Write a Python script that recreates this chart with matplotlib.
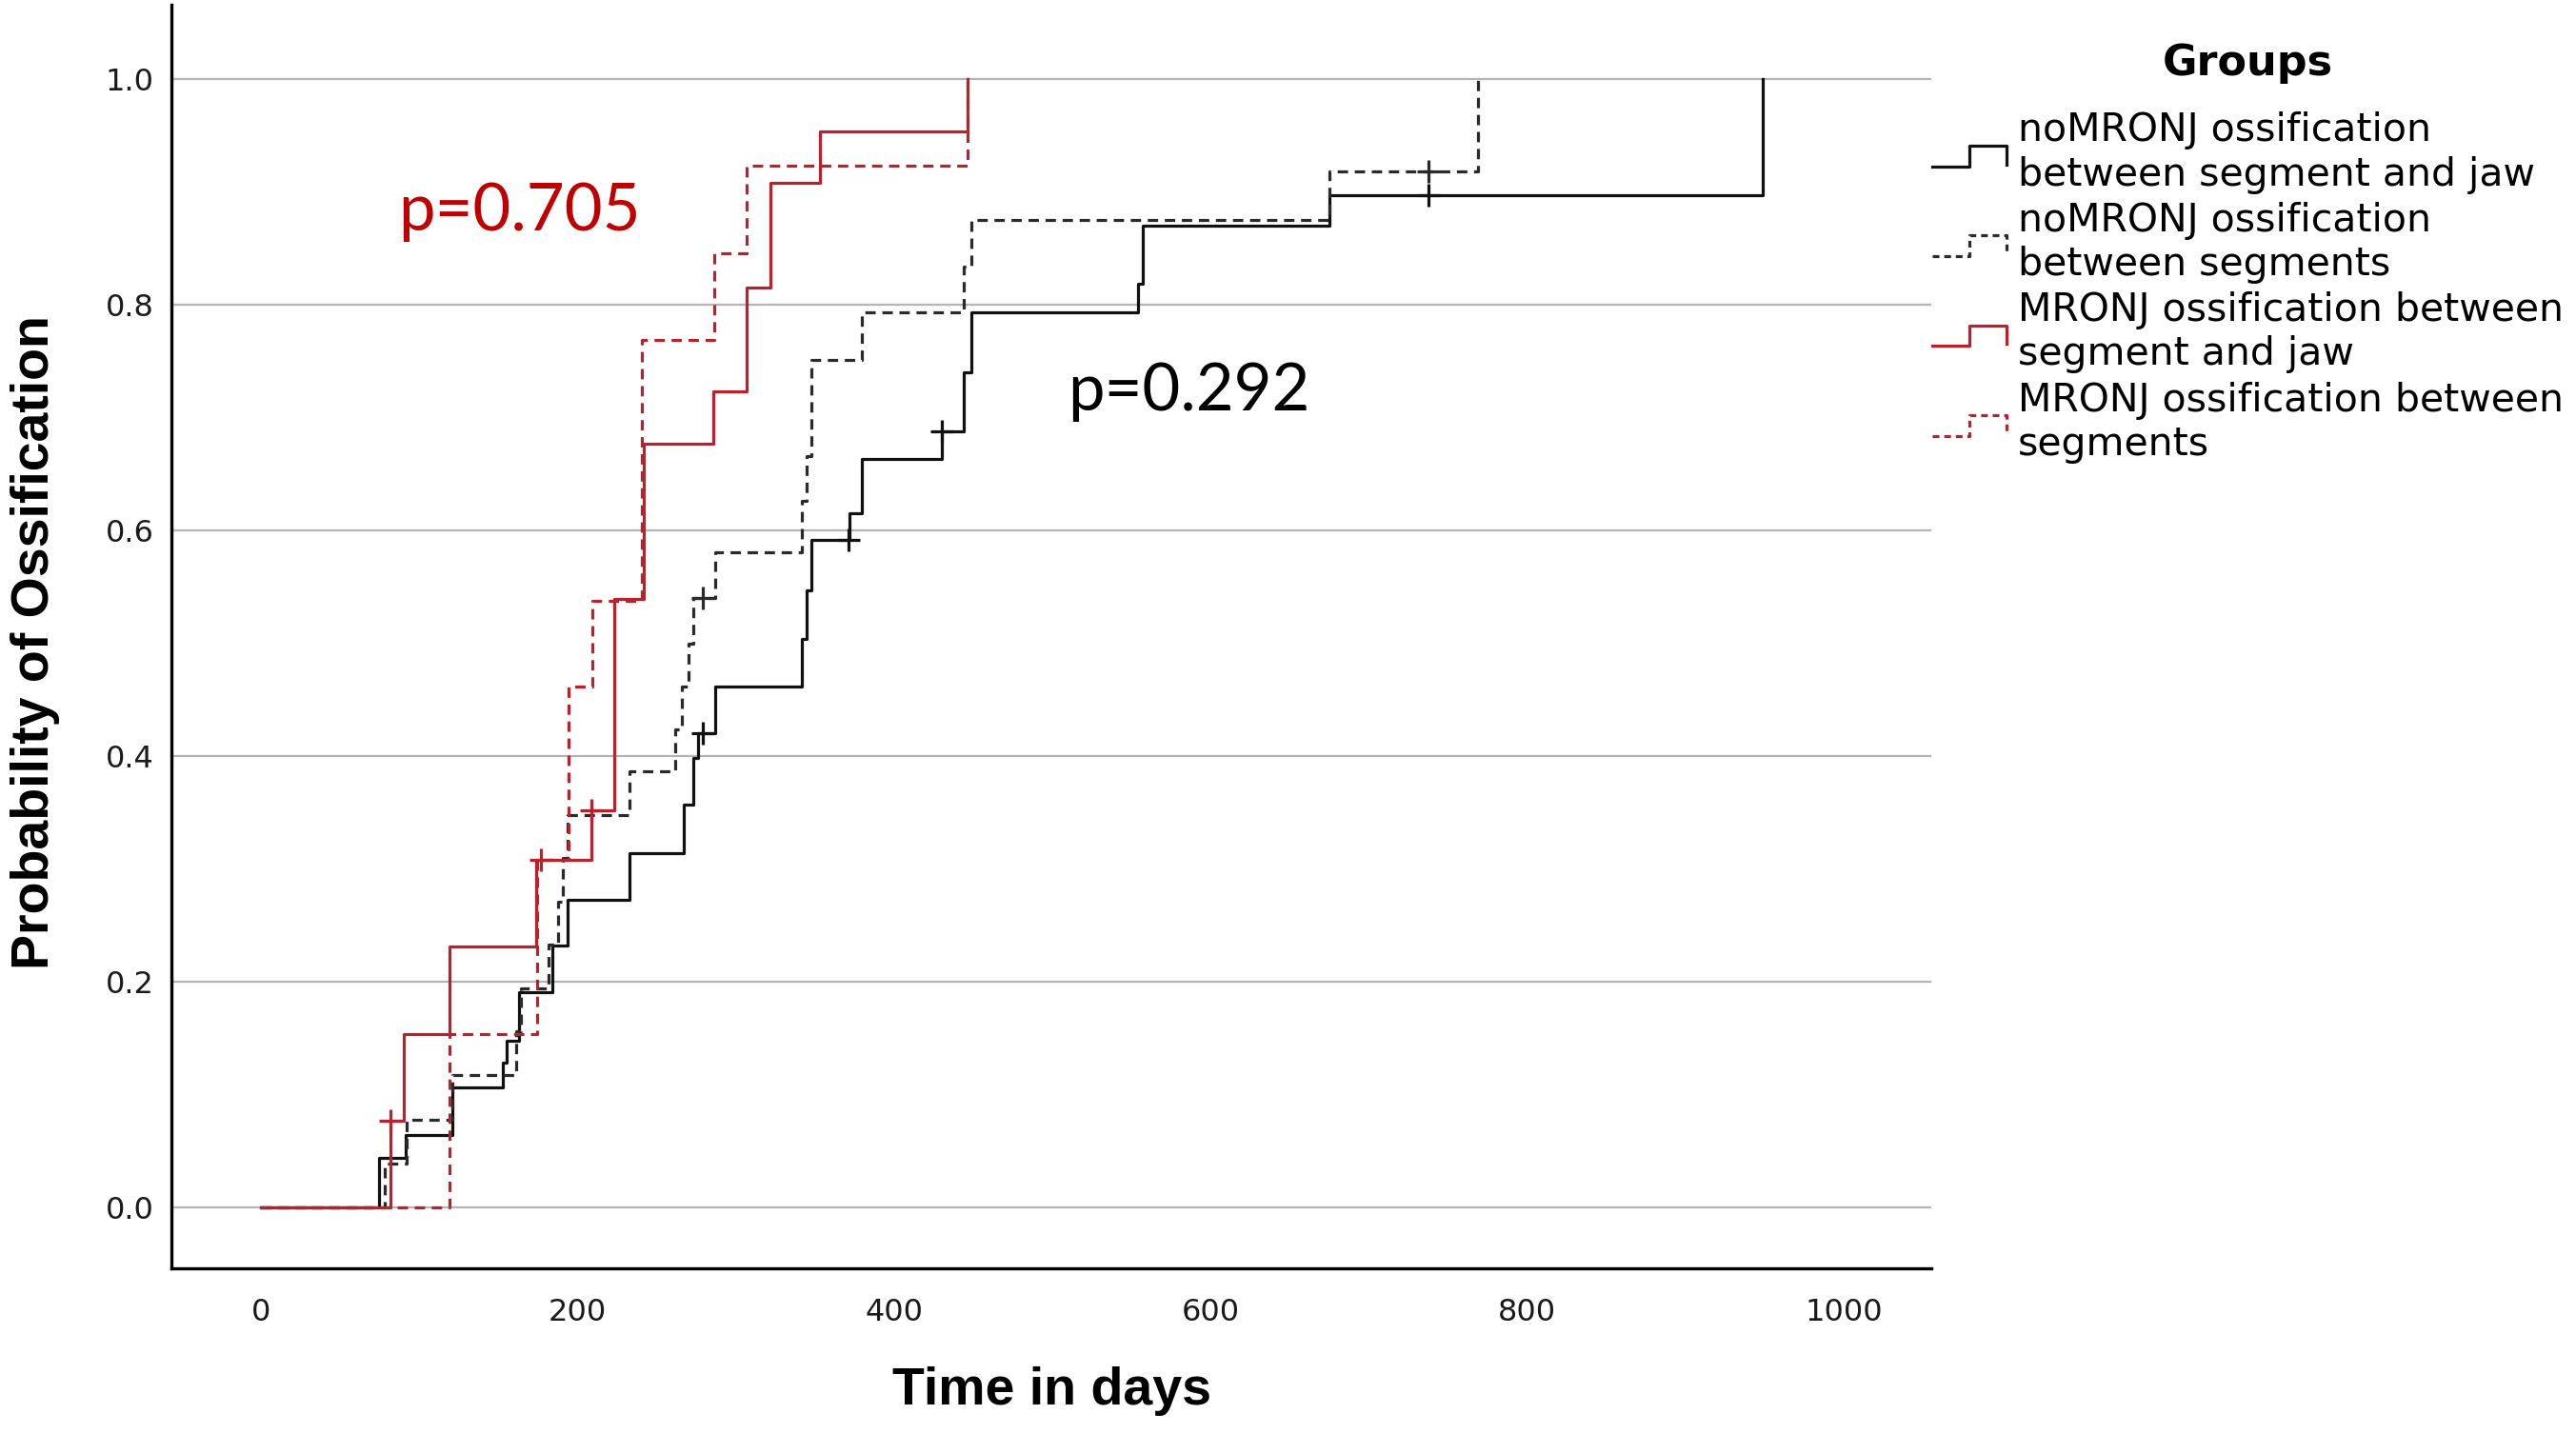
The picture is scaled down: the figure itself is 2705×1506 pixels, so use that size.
import numpy as np
import matplotlib
matplotlib.use('Agg')
import matplotlib.pyplot as plt
from matplotlib.legend_handler import HandlerBase
from matplotlib.lines import Line2D

################################### Dati ###########################
## noMRONJ ossification between segment and jaw
nosj_t = [0, 74.5, 91.5, 121, 153, 155, 163, 184, 194, 233, 267, 273, 276, 287,
          342, 345, 348, 372, 380, 430, 444, 449, 554, 557, 675, 949]
nosj_v = [0, 0.044, 0.064, 0.106, 0.128, 0.148, 0.191, 0.232, 0.273, 0.314, 0.357,
          0.398, 0.420, 0.462, 0.504, 0.547, 0.592, 0.615, 0.663, 0.688, 0.740,
          0.793, 0.819, 0.870, 0.897, 1.0]
nosj_ct = [279, 371, 430, 737.5]
nosj_cv = [0.420, 0.592, 0.688, 0.897]

## noMRONJ ossification between segments
noss_t = [0, 78, 92, 121, 161, 164, 182, 188, 191, 194, 233, 262, 266, 270, 273,
          287, 342, 345, 348, 380, 444, 449, 675, 769]
noss_v = [0, 0.039, 0.078, 0.117, 0.156, 0.194, 0.233, 0.271, 0.310, 0.348, 0.387,
          0.424, 0.462, 0.500, 0.540, 0.581, 0.626, 0.666, 0.751, 0.793, 0.834,
          0.875, 0.918, 1.0]
noss_ct = [279, 737.5]
noss_cv = [0.540, 0.918]

## MRONJ ossification between segment and jaw
msj_t = [0, 82, 90, 119, 174, 209, 223, 242, 286, 307, 322, 353, 446.5]
msj_v = [0, 0.077, 0.154, 0.231, 0.308, 0.352, 0.539, 0.677, 0.723, 0.815, 0.908,
         0.954, 1.0]
msj_ct = [82, 177, 209]
msj_cv = [0.077, 0.308, 0.352]

## MRONJ ossification between segments
mss_t = [0, 119, 174.5, 194.6, 209.4, 241, 286.4, 307, 446.5]
mss_v = [0, 0.154, 0.308, 0.462, 0.538, 0.769, 0.846, 0.923, 1.0]

labels = ['noMRONJ ossification\nbetween segment and jaw',
          'noMRONJ ossification\nbetween segments',
          'MRONJ ossification between\nsegment and jaw',
          'MRONJ ossification between\nsegments']

xticks = [0, 200, 400, 600, 800, 1000]
yticks = [0.0, 0.2, 0.4, 0.6, 0.8, 1.0]

red = '#b7222c'
dash = (3.4, 2.2)
lw = 2.3


## icona a gradino per la legenda (come SPSS)
class StepHandler(HandlerBase):
    def create_artists(self, legend, orig_handle, xdescent, ydescent,
                       width, height, fontsize, trans):
        x0, y0 = -xdescent, -ydescent
        xs = [x0, x0 + 0.5*width, x0 + 0.5*width, x0 + width, x0 + width]
        ys = [y0 + 0.05*height, y0 + 0.05*height, y0 + 0.8*height,
              y0 + 0.8*height, y0 + 0.12*height]
        ln = Line2D(xs, ys, color=orig_handle.get_color(),
                    linestyle=orig_handle.get_linestyle(), lw=orig_handle.get_linewidth())
        if orig_handle.get_linestyle() not in ('-', 'solid'):
            ln.set_dashes((2.2, 1.6))
        ln.set_transform(trans)
        return [ln]


fig = plt.figure(figsize=(27.05, 15.06), dpi=100)
ax = fig.add_axes([0.0665, 0.1155, 0.6832, 0.8812])

l1, = ax.step(nosj_t, nosj_v, where='post', color='#111111', lw=lw)
l2, = ax.step(noss_t, noss_v, where='post', color='#2a2a2a', lw=lw, ls='--', dashes=dash)
l3, = ax.step(msj_t, msj_v, where='post', color=red, lw=lw)
l4, = ax.step(mss_t, mss_v, where='post', color=red, lw=lw, ls='--', dashes=dash)

ax.plot(nosj_ct, nosj_cv, ls='none', marker='+', ms=17, mew=2.3, color='#111111')
ax.plot(noss_ct, noss_cv, ls='none', marker='+', ms=17, mew=2.3, color='#2a2a2a')
ax.plot(msj_ct, msj_cv, ls='none', marker='+', ms=17, mew=2.3, color=red)

ax.set_xlim(-56.6, 1055.4)
ax.set_ylim(-0.054, 1.066)
ax.set_xticks(xticks)
ax.set_yticks(yticks)
ax.set_yticklabels(['%.1f' % v for v in yticks])
ax.tick_params(axis='both', length=0, labelsize=23, labelcolor='#1a1a1a')
ax.tick_params(axis='x', pad=22)
ax.tick_params(axis='y', pad=13)

ax.yaxis.grid(True, color='#b4b4b4', lw=1.6)
ax.set_axisbelow(True)
for s in ['top', 'right']:
    ax.spines[s].set_visible(False)
for s in ['left', 'bottom']:
    ax.spines[s].set_linewidth(2.4)
    ax.spines[s].set_color('black')

ax.set_xlabel('Time in days', fontsize=40, fontweight='bold', family='Liberation Sans')
ax.set_ylabel('Probability of Ossification', fontsize=40, fontweight='bold',
              family='Liberation Sans')
ax.xaxis.set_label_coords(0.5005, -0.0972)
ax.xaxis.label.set_verticalalignment('center')
ax.yaxis.set_label_coords(-0.0775, 0.4958)
ax.yaxis.label.set_verticalalignment('center')
ax.yaxis.label.set_horizontalalignment('center')

ax.text(87, 0.882, 'p=0.705', color='#c00000', fontsize=49.5, family=['Lato', 'DejaVu Sans'],
        ha='left', va='center')
ax.text(509.6, 0.723, 'p=0.292', color='black', fontsize=49.5, family=['Lato', 'DejaVu Sans'],
        ha='left', va='center')

leg = ax.legend([l1, l2, l3, l4], labels, handler_map={Line2D: StepHandler()},
                loc='upper left', bbox_to_anchor=(0.7501, 0.970),
                bbox_transform=fig.transFigure, frameon=False,
                borderpad=0, borderaxespad=0, handlelength=1.9, handletextpad=0.3,
                labelspacing=0.2, prop={'family': 'DejaVu Sans', 'size': 29.5},
                title='Groups', title_fontproperties={'family': 'DejaVu Sans',
                                                      'weight': 'bold', 'size': 32})
leg._legend_box.sep = 21

fig.savefig('out.png', dpi=100)
